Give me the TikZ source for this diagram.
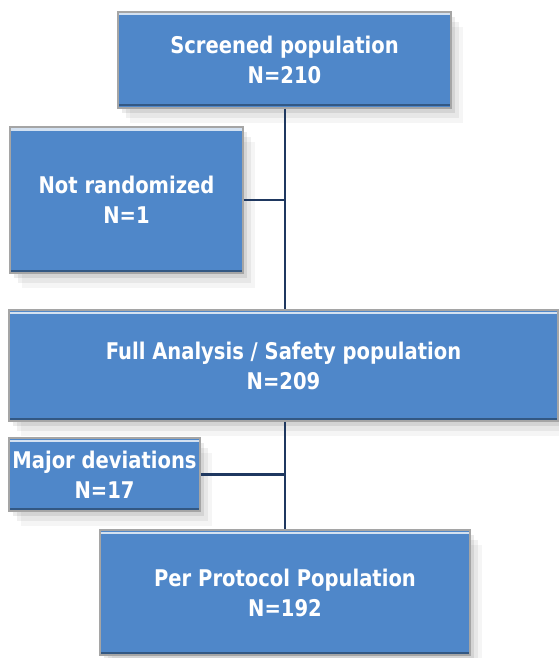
\documentclass[tikz,border=0pt]{standalone}
\usepackage{fontspec}
\newfontfamily\boxfont[FakeStretch=0.85]{DejaVu Sans Bold}
\usetikzlibrary{positioning, calc, shadows}
\definecolor{boxblue}{RGB}{79,135,201}
\definecolor{boxedge}{RGB}{165,165,165}
\definecolor{linenavy}{RGB}{31,56,96}

\begin{document}
\begin{tikzpicture}[x=1pt, y=-1pt,
    box/.style={rectangle, draw=boxedge, line width=1.6pt, fill=boxblue, text=white, align=center,
        font=\boxfont\fontsize{23}{30}\selectfont, inner sep=0pt,
        drop shadow={shadow xshift=4pt, shadow yshift=-5pt, opacity=0.08, fill=black},
        drop shadow={shadow xshift=8pt, shadow yshift=-10pt, opacity=0.06, fill=black},
        drop shadow={shadow xshift=12pt, shadow yshift=-15pt, opacity=0.04, fill=black},
        path picture={
            \draw[white!75!boxblue, line width=2pt] ($(path picture bounding box.north west)+(0,-2.5pt)$) -- ($(path picture bounding box.north east)+(0,-2.5pt)$);
            \draw[black!35!boxblue, line width=2pt] ($(path picture bounding box.south west)+(0,2.5pt)$) -- ($(path picture bounding box.south east)+(0,2.5pt)$);
        }},
    link/.style={draw=linenavy, line width=2.2pt}
]
    \useasboundingbox (0,0) rectangle (559,658);

    % Connectors
    \coordinate (trunk1) at (285,108);
    \coordinate (trunk2) at (285,421);

    % Boxes
    \node[box, minimum width=333pt, minimum height=96pt] (screened) at (284.5,60) {Screened population\\N=210};
    \node[box, minimum width=233pt, minimum height=146pt] (notrand) at (126.5,200) {Not randomized\\N=1};
    \node[box, minimum width=549pt, minimum height=111pt] (full) at (283.5,365.5) {Full Analysis / Safety population\\N=209};
    \node[box, minimum width=191pt, minimum height=73pt] (major) at (104.5,474.5) {Major deviations\\N=17};
    \node[box, minimum width=370pt, minimum height=125pt] (pp) at (285,592.5) {Per Protocol Population\\N=192};

    \draw[link] (screened.south -| trunk1) -- (full.north -| trunk1);
    \draw[link] (notrand.east) -- (notrand.east -| trunk1);
    \draw[link] (full.south -| trunk2) -- (pp.north -| trunk2);
    \draw[link] (major.east) -- (major.east -| trunk2);
\end{tikzpicture}
\end{document}
